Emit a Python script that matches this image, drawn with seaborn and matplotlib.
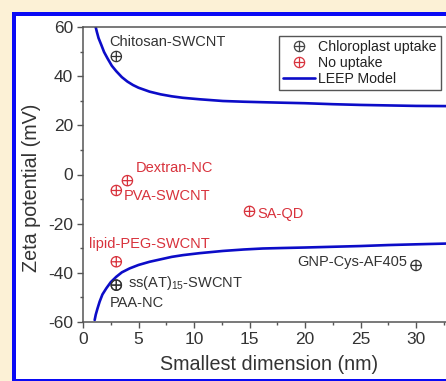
import matplotlib
matplotlib.use("Agg")
import matplotlib.pyplot as plt
import seaborn as sns
import pandas as pd
from matplotlib.path import Path
from matplotlib.lines import Line2D
from matplotlib.patches import Rectangle
from matplotlib.ticker import MultipleLocator

# ---------------- data ----------------
uptake_names = ["Chitosan-SWCNT", "ss(AT)$_{15}$-SWCNT", "PAA-NC", "GNP-Cys-AF405"]
uptake_x = [3, 3, 3, 30]
uptake_y = [48, -45, -45, -37]

nouptake_names = ["Dextran-NC", "PVA-SWCNT", "SA-QD", "lipid-PEG-SWCNT"]
nouptake_x = [4, 3, 15, 3]
nouptake_y = [-2.5, -6.5, -15, -35.5]

leep_upper_x = [1.14, 1.25, 1.4, 1.65, 1.9, 2.2, 2.6, 3.0, 3.5, 4.0, 4.5, 5.0, 6.0, 7.0,
                8.0, 9.0, 10.5, 12.6, 14.5, 16.2, 18, 20, 22.5, 25, 27.5, 30, 33.6]
leep_upper_y = [60, 58, 55.5, 52.7, 49.8, 47.3, 44.2, 42.0, 39.6, 37.8, 36.4, 35.3, 33.7, 32.6,
                31.8, 31.2, 30.6, 29.9, 29.6, 29.4, 29.2, 29.0, 28.6, 28.3, 28.1, 27.9, 27.8]
leep_lower_x = [1.05, 1.15, 1.3, 1.5, 1.75, 2.1, 2.5, 3.0, 3.5, 4.2, 5.0, 6.0, 7.0, 8.0,
                9.0, 10.5, 12.6, 14.5, 16.2, 18, 20, 22.5, 25, 27.5, 30, 33.6]
leep_lower_y = [-59.2, -57.0, -54.6, -51.7, -48.8, -46.3, -43.8, -41.6, -39.8, -38.2, -36.8,
                -35.5, -34.5, -33.5, -32.8, -32.0, -31.1, -30.5, -30.1, -29.9, -29.7, -29.4,
                -29.1, -28.7, -28.4, -28.0]

x_ticks = [0, 5, 10, 15, 20, 25, 30]
y_ticks = [-60, -40, -20, 0, 20, 40, 60]
legend_labels = ["Chloroplast uptake", "No uptake", "LEEP Model"]
x_label = "Smallest dimension (nm)"
y_label = "Zeta potential (mV)"

# label placement (data coords, left/right anchor)
uptake_label_pos = [(2.37, 54.0, "left"), (4.03, -44.0, "left"), (2.43, -52.4, "left"), (29.2, -35.7, "right")]
nouptake_label_pos = [(4.75, 2.8, "left"), (3.63, -8.8, "left"), (15.7, -16.1, "left"), (0.57, -28.3, "left")]

# ---------------- style ----------------
CREAM = "#fcf1d6"
FRAME_BLUE = "#0a0af5"
LINE_BLUE = "#0c0cc8"
DARK = "#333333"
RED = "#d8323c"
AXC = "#555555"

sns.set_theme(style="ticks")
plt.rcParams["font.family"] = ["Liberation Sans", "DejaVu Sans"]
plt.rcParams["axes.unicode_minus"] = False
plt.rcParams["mathtext.fontset"] = "custom"
plt.rcParams["mathtext.rm"] = "Liberation Sans"
plt.rcParams["mathtext.it"] = "Liberation Sans:italic"
plt.rcParams["mathtext.bf"] = "Liberation Sans:bold"

W, H = 446, 381
fig = plt.figure(figsize=(W / 100, H / 100), dpi=100, facecolor=CREAM)
fig.patches.append(Rectangle((12 / W, 0), 1.2, (H - 12) / H, transform=fig.transFigure,
                             facecolor=FRAME_BLUE, edgecolor="none", zorder=-10))
fig.patches.append(Rectangle((16 / W, 2 / H), 1.2, (H - 18) / H, transform=fig.transFigure,
                             facecolor="white", edgecolor="none", zorder=-9))

AX_L, AX_B, AX_W, AX_H = 83, 59, 456 - 83, 295
ax = fig.add_axes([AX_L / W, AX_B / H, AX_W / W, AX_H / H])
ax.set_facecolor("white")

# ⊕ marker
circle = Path.unit_circle()
plus = Path([[-1, 0], [1, 0], [0, -1], [0, 1]],
            [Path.MOVETO, Path.LINETO, Path.MOVETO, Path.LINETO])
oplus = Path.make_compound_path(circle, plus)

upper = pd.DataFrame({"x": leep_upper_x, "y": leep_upper_y})
lower = pd.DataFrame({"x": leep_lower_x, "y": leep_lower_y})
sns.lineplot(data=upper, x="x", y="y", ax=ax, color=LINE_BLUE, lw=1.9, estimator=None,
             sort=True, solid_joinstyle="round", solid_capstyle="round")
sns.lineplot(data=lower, x="x", y="y", ax=ax, color=LINE_BLUE, lw=1.9, estimator=None,
             sort=True, solid_joinstyle="round", solid_capstyle="round")

up = pd.DataFrame({"x": uptake_x, "y": uptake_y})
nu = pd.DataFrame({"x": nouptake_x, "y": nouptake_y})
sns.scatterplot(data=up, x="x", y="y", ax=ax, marker=oplus, s=55,
                facecolor="none", edgecolor=DARK, linewidth=0.9, zorder=5)
sns.scatterplot(data=nu, x="x", y="y", ax=ax, marker=oplus, s=55,
                facecolor="none", edgecolor=RED, linewidth=0.9, zorder=5)

for name, (tx, ty, ha) in zip(uptake_names, uptake_label_pos):
    ax.text(tx, ty, name, ha=ha, va="center", fontsize=10.5, color=DARK)
for name, (tx, ty, ha) in zip(nouptake_names, nouptake_label_pos):
    ax.text(tx, ty, name, ha=ha, va="center", fontsize=10.5, color=RED)

ax.set_xlim(0, 33.6)
ax.set_ylim(-60, 60)
ax.set_xticks(x_ticks)
ax.set_yticks(y_ticks)
ax.xaxis.set_minor_locator(MultipleLocator(2.5))
ax.yaxis.set_minor_locator(MultipleLocator(10))
ax.tick_params(which="major", direction="out", length=4.5, width=1.0, color=AXC,
               labelsize=12.5, labelcolor=DARK, pad=2.5)
ax.tick_params(which="minor", direction="out", length=2.5, width=1.0, color=AXC)
for side in ["left", "bottom", "top"]:
    ax.spines[side].set_visible(True)
    ax.spines[side].set_color(AXC)
    ax.spines[side].set_linewidth(1.1)
ax.spines["right"].set_visible(False)

ax.set_xlabel(x_label, fontsize=14.2, color=DARK, labelpad=6)
ax.set_ylabel(y_label, fontsize=14.2, color=DARK, va="center")
ax.yaxis.set_label_coords((32 - AX_L) / AX_W, ((H - 188) - AX_B) / AX_H)

handles = [
    Line2D([], [], ls="none", marker=oplus, ms=7.4, mfc="none", mec="#444444", mew=0.9),
    Line2D([], [], ls="none", marker=oplus, ms=7.4, mfc="none", mec=RED, mew=0.9),
    Line2D([], [], color=LINE_BLUE, lw=1.9),
]
leg = ax.legend(handles, legend_labels, loc="upper right",
                bbox_to_anchor=(441 / W, 1 - 36 / H), bbox_transform=fig.transFigure,
                fontsize=10.2, frameon=True, fancybox=False, framealpha=1,
                edgecolor="#555555", handlelength=2.3, handletextpad=0.2,
                labelspacing=0.12, borderpad=0.3, borderaxespad=0)
leg.get_frame().set_linewidth(1.0)
for t in leg.get_texts():
    t.set_color("#222222")

fig.savefig("out.png", dpi=100, facecolor=CREAM)
